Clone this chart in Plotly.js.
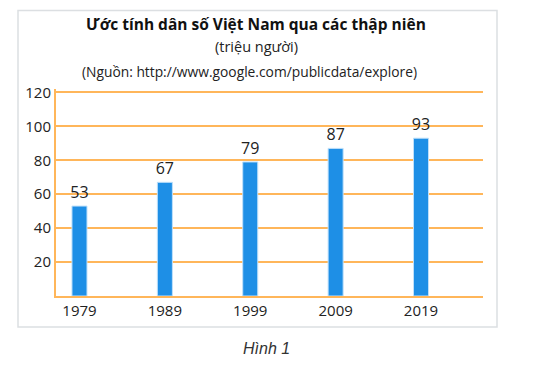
<!DOCTYPE html>
<html>
<head>
<meta charset="utf-8">
<script src="https://cdn.plot.ly/plotly-3.0.1.min.js"></script>
<style>html,body{margin:0;padding:0;background:#fff;}#chart{width:541px;height:369px;}</style>
</head>
<body>
<div id="chart"></div>
<script>
var years = [1979, 1989, 1999, 2009, 2019];
var population = [53, 67, 79, 87, 93];
var yTicks = [20, 40, 60, 80, 100, 120];
var titleText = "Ước tính dân số Việt Nam qua các thập niên";
var subtitleText = "(triệu người)";
var sourceText = "(Nguồn: http://www.google.com/publicdata/explore)";
var captionText = "Hình 1";

var FONT = "Open Sans, Noto Sans, sans-serif";
var L = 56, R = 483, T = 88.6, B = 296;
var W = R - L, H = B - T;
function px(x) { return (x - L) / W; }
function py(y) { return (B - y) / H; }

var trace = {
  type: "bar",
  x: years,
  y: population,
  width: 1.76,
  marker: {color: "#1E8FE6", line: {color: "#BFE0FA", width: 1}},
  text: population.map(String),
  textposition: "outside",
  constraintext: "none",
  cliponaxis: false,
  textfont: {family: FONT, size: 16, color: "#222"},
  hoverinfo: "none"
};

var layout = {
  width: 541, height: 369,
  margin: {l: L, r: 541 - R, t: T, b: 369 - B, pad: 0},
  paper_bgcolor: "#fff", plot_bgcolor: "#fff",
  showlegend: false,
  xaxis: {
    range: [1976.25, 2026.26],
    tickvals: years, ticktext: years.map(String),
    showgrid: false, zeroline: false,
    showline: true, linecolor: "#FFB65A", linewidth: 2,
    ticks: "", ticklen: 0,
    tickfont: {family: FONT, size: 15, color: "#222"}
  },
  yaxis: {
    range: [0, 122],
    tickvals: yTicks,
    showgrid: true, gridcolor: "#FFB65A", gridwidth: 2,
    zeroline: false,
    showline: true, linecolor: "#FFB65A", linewidth: 2,
    ticks: "", ticklen: 0,
    tickfont: {family: FONT, size: 15, color: "#222"}
  },
  shapes: [{
    type: "rect", xref: "paper", yref: "paper",
    x0: px(18), x1: px(497), y0: py(327), y1: py(10),
    line: {color: "#DCDFE2", width: 1.5}, fillcolor: "rgba(0,0,0,0)", layer: "below"
  }],
  annotations: [
    {text: "<b>" + titleText + "</b>", xref: "paper", yref: "paper", x: px(256), y: py(23),
     xanchor: "center", yanchor: "middle", showarrow: false,
     font: {family: FONT, size: 15.5, color: "#111"}},
    {text: subtitleText, xref: "paper", yref: "paper", x: px(256), y: py(46),
     xanchor: "center", yanchor: "middle", showarrow: false,
     font: {family: FONT, size: 14.5, color: "#222"}},
    {text: sourceText, xref: "paper", yref: "paper", x: px(249), y: py(71),
     xanchor: "center", yanchor: "middle", showarrow: false,
     font: {family: FONT, size: 13.8, color: "#222"}},
    {text: "<i>" + captionText + "</i>", xref: "paper", yref: "paper", x: px(266), y: py(349),
     xanchor: "center", yanchor: "middle", showarrow: false,
     font: {family: "Liberation Sans, Arial, sans-serif", size: 16, color: "#333"}}
  ]
};

Plotly.newPlot("chart", [trace], layout, {displayModeBar: false, staticPlot: true});
</script>
</body>
</html>
